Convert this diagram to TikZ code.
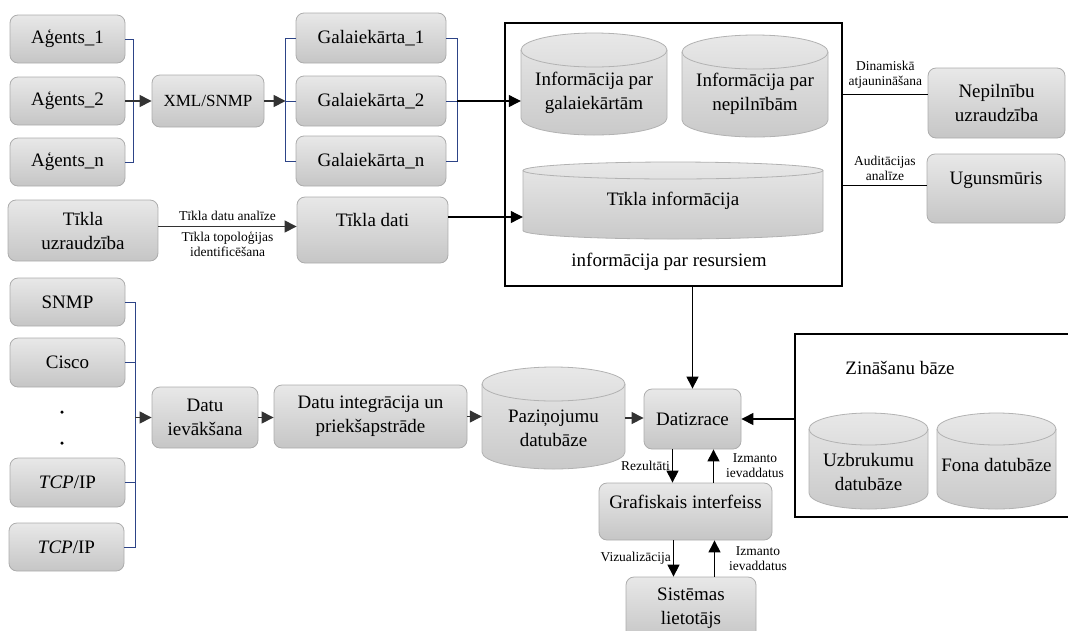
\documentclass[tikz,border=0pt]{standalone}
\usepackage{fontspec}
\setmainfont{Liberation Serif}
\usetikzlibrary{arrows.meta,calc}
\definecolor{brk}{RGB}{45,68,135}
\newcommand{\fmain}{\fontsize{19}{24}\selectfont}
\newcommand{\fsml}{\fontsize{13.5}{15}\selectfont}
\newcommand{\fxml}{\fontsize{17}{20}\selectfont}

% database cylinder: name, x-left, x-right, y-top, y-bottom, end radius (y grows downward)
\newcommand{\dbcyl}[6]{%
  \pgfmathsetmacro{\cylrx}{(#3-#2)/2}%
  \pgfmathsetmacro{\cylcx}{(#3+#2)/2}%
  \pgfmathsetmacro{\cylcy}{-(#4+#5)/2}%
  \pgfmathsetmacro{\cylw}{#3-#2}%
  \pgfmathsetmacro{\cylh}{#5-#4}%
  \path[draw=gray!60, line width=0.8pt, top color=gray!18, bottom color=gray!42]
    (#2,{-(#4+#6)}) -- (#2,{-(#5-#6)})
    arc[start angle=180, end angle=360, x radius=\cylrx, y radius=#6]
    -- (#3,{-(#4+#6)})
    arc[start angle=0, end angle=180, x radius=\cylrx, y radius=#6] -- cycle;
  \draw[gray!60, line width=0.8pt] (#2,{-(#4+#6)})
    arc[start angle=180, end angle=360, x radius=\cylrx, y radius=#6];
  \node[inner sep=0pt, minimum width=\cylw pt, minimum height=\cylh pt] (#1) at (\cylcx,\cylcy) {};
}

\begin{document}
\begin{tikzpicture}[x=1pt, y=1pt,
  box/.style={draw=gray!65, line width=0.8pt, rounded corners=8pt,
    top color=gray!18, bottom color=gray!45, align=center, font=\fmain, inner sep=2pt},
  lift/.style={text depth=20pt},
  arr/.style={draw=black!80, line width=1.1pt, -{Triangle[length=12pt,width=12pt]}},
  link/.style={draw=black, line width=0.9pt},
  brace/.style={draw=brk, line width=1pt},
  frame/.style={draw=black, line width=2.4pt, fill=white},
  lbl/.style={font=\fsml, align=center, inner sep=2pt},
  txt/.style={font=\fmain, align=center, inner sep=0pt},
  dotn/.style={circle, fill=black, inner sep=0pt, minimum size=3.5pt}]

\useasboundingbox (0,0) rectangle (1068,-630);
\clip (0,0) rectangle (1068,-630);

% outer frames
\node[frame, minimum width=337pt, minimum height=263pt] (res) at (673.5,-154.5) {};
\node[frame, minimum width=280pt, minimum height=183pt] (kb) at (935,-425.5) {};
\node[txt] (restxt) at (669,-262) {informācija par resursiem};
\node[txt] (kbtxt) at (900,-368) {Zināšanu bāze};

% databases
\dbcyl{cyl1}{521}{667}{33}{135}{17}
\dbcyl{cyl2}{682}{828}{35}{137}{17}
\dbcyl{cyl3}{523}{823}{162}{239}{8.5}
\dbcyl{pdb}{482}{625}{367}{469}{17}
\dbcyl{uzb}{809}{928}{413}{509}{16}
\dbcyl{fona}{937}{1056}{413}{509}{16}
\node[txt] (cyl1t) at (594,-93) {Informācija par\\galaiekārtām};
\node[txt] (cyl2t) at (755,-94) {Informācija par\\nepilnībām};
\node[txt] (cyl3t) at (673,-201) {Tīkla informācija};
\node[txt] (pdbt) at (553.5,-428) {Paziņojumu\\datubāze};
\node[txt] (uzbt) at (868.5,-472) {Uzbrukumu\\datubāze};
\node[txt] (fonat) at (996.5,-465) {Fona datubāze};

% agents
\node[box, minimum width=115pt, minimum height=48pt] (a1) at (67.5,-39) {Aģents\_1};
\node[box, minimum width=115pt, minimum height=48pt] (a2) at (67.5,-101) {Aģents\_2};
\node[box, minimum width=115pt, minimum height=48pt] (an) at (67.5,-162) {Aģents\_n};
\node[box, font=\fxml, minimum width=112pt, minimum height=52pt] (xml) at (208,-101) {XML/SNMP};
\node[box, minimum width=150pt, minimum height=50pt] (g1) at (371,-38) {Galaiekārta\_1};
\node[box, minimum width=150pt, minimum height=50pt] (g2) at (371,-101) {Galaiekārta\_2};
\node[box, minimum width=150pt, minimum height=50pt] (gn) at (371,-161) {Galaiekārta\_n};

% network monitoring
\node[box, minimum width=150pt, minimum height=61pt] (tuz) at (83,-230.5) {Tīkla\\uzraudzība};
\node[box, lift, minimum width=151pt, minimum height=66pt] (tdati) at (372.5,-230) {Tīkla dati};
\node[box, minimum width=137pt, minimum height=70pt] (nep) at (996.5,-103) {Nepilnību\\uzraudzība};
\node[box, lift, minimum width=138pt, minimum height=69pt] (ugun) at (996,-188.5) {Ugunsmūris};

% data sources
\node[box, minimum width=115pt, minimum height=48pt] (snmp) at (67.5,-302) {SNMP};
\node[box, minimum width=115pt, minimum height=49pt] (cisco) at (67.5,-362.5) {Cisco};
\node[dotn] (dot1) at (62,-412) {};
\node[dotn] (dot2) at (62,-443) {};
\node[box, minimum width=115pt, minimum height=49pt] (tcp1) at (67.5,-482.5) {\textit{TCP}/IP};
\node[box, minimum width=115pt, minimum height=48pt] (tcp2) at (66.5,-547) {\textit{TCP}/IP};

% processing chain
\node[box, minimum width=106pt, minimum height=61pt] (div) at (205,-417.5) {Datu\\ievākšana};
\node[box, minimum width=193pt, minimum height=63pt] (dint) at (370.5,-416.5) {Datu integrācija un\\priekšapstrāde};
\node[box, minimum width=97pt, minimum height=60pt] (dz) at (692.5,-419) {Datizrace};
\node[box, lift, minimum width=173pt, minimum height=57pt] (gi) at (685.5,-511.5) {Grafiskais interfeiss};
\node[box, minimum width=130pt, minimum height=63pt] (sl) at (691,-608.5) {Sistēmas\\lietotājs};

% agents bracket
\coordinate (aB) at ($(a2.east)+(8,0)$);
\draw[brace] (a1.east) -| (aB) |- (an.east);
\draw[arr] (a2.east) -- (xml.west);

% end devices brackets
\coordinate (gL) at ($(g2.west)+(-10,0)$);
\coordinate (gR) at ($(g2.east)+(11,0)$);
\draw[arr] (xml.east) -- (gL);
\draw[brace] (g1.west) -| (gL) |- (gn.west);
\draw[brace] (gL) -- (g2.west);
\draw[brace] (g1.east) -| (gR) |- (gn.east);
\draw[brace] (g2.east) -- (gR);
\draw[arr, draw=black] (gR) -- (gR -| cyl1.west);

% network data
\draw[arr] ([yshift=4pt]tuz.east) -- ([yshift=4pt]tuz.east -| tdati.west)
  node[midway, above, lbl, yshift=3pt] (lb1) {Tīkla datu analīze}
  node[midway, below, lbl, yshift=-3pt] (lb2) {Tīkla topoloģijas\\identificēšana};
\draw[arr, draw=black] ([yshift=13pt]tdati.east) -- ([yshift=13pt]tdati.east -| cyl3.west);

% links to the right
\draw[link] ([yshift=9pt]nep.west -| res.east) -- ([yshift=9pt]nep.west)
  node[midway, above, lbl, yshift=3pt] (lb3) {Dinamiskā\\atjaunināšana};
\draw[link] ([yshift=3pt]ugun.west -| res.east) -- ([yshift=3pt]ugun.west)
  node[midway, above, lbl, yshift=2pt] (lb4) {Auditācijas\\analīze};

% data sources bracket
\coordinate (sB) at ($(snmp.east)+(10,0)$);
\draw[brace] (snmp.east) -- (sB) -- (sB |- tcp2.east) -- (tcp2.east);
\draw[brace] (cisco.east) -- (cisco.east -| sB);
\draw[brace] (tcp1.east) -- (tcp1.east -| sB);
\draw[arr] (sB |- div.west) -- (div.west);

% processing chain arrows
\draw[arr] (div.east) -- (div.east -| dint.west);
\draw[arr] (dint.east) -- (dint.east -| pdb.west);
\draw[arr] (pdb.east) -- (pdb.east -| dz.west);
\draw[arr, draw=black] (res.south -| dz.north) -- (dz.north);
\draw[arr, draw=black] (dz.east -| kb.west) -- (dz.east);
\draw[arr, draw=black] ([xshift=-20pt]dz.south) -- ([xshift=-20pt]dz.south |- gi.north)
  node[midway, left, lbl] (lb5) {Rezultāti};
\draw[arr, draw=black] ([xshift=21pt]dz.south |- gi.north) -- ([xshift=21pt]dz.south)
  node[midway, right, lbl, xshift=10pt] (lb6) {Izmanto\\ievaddatus};
\draw[arr, draw=black] ([xshift=-12pt]gi.south) -- ([xshift=-12pt]gi.south |- sl.north)
  node[midway, left, lbl] (lb7) {Vizualizācija};
\draw[arr, draw=black] ([xshift=29pt]gi.south |- sl.north) -- ([xshift=29pt]gi.south)
  node[midway, right, lbl, xshift=12pt] (lb8) {Izmanto\\ievaddatus};
\end{tikzpicture}
\end{document}
